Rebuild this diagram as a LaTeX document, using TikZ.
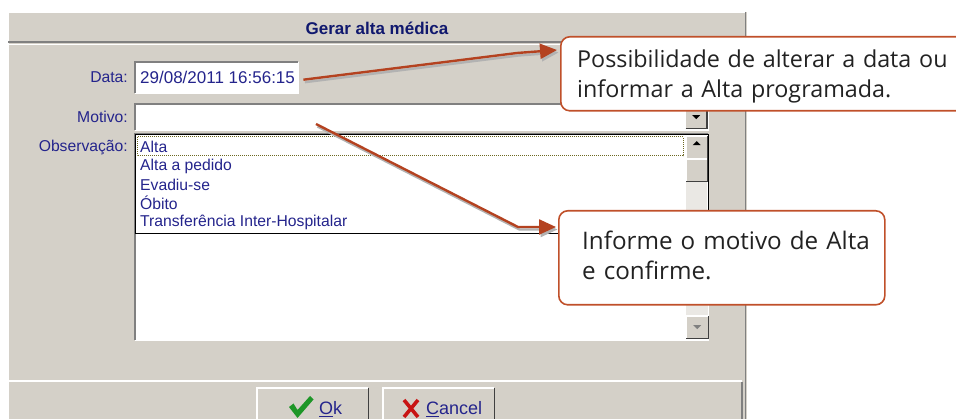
\documentclass[tikz,border=0pt]{standalone}
\usepackage{fontspec}
\setmainfont{Liberation Sans}
\newfontfamily\notefont{Open Sans}
\usetikzlibrary{arrows.meta}

\definecolor{winGray}{RGB}{212,208,200}
\definecolor{winShade}{RGB}{128,128,128}
\definecolor{winDark}{RGB}{64,64,64}
\definecolor{trackGray}{RGB}{234,232,228}
\definecolor{titleBlue}{RGB}{16,24,110}
\definecolor{uiBlue}{RGB}{36,36,140}
\definecolor{noteRed}{RGB}{192,80,42}
\definecolor{arrowRed}{RGB}{180,66,32}
\definecolor{noteText}{RGB}{34,34,34}
\definecolor{okGreen}{RGB}{30,150,40}
\definecolor{cancelRed}{RGB}{200,20,20}

% sunken edge of a white field
\newcommand{\sunkenedge}[1]{%
  \draw[winShade, line width=1.2pt] (#1.south west) |- (#1.north east);
  \draw[white, line width=1.2pt] (#1.south west) -| (#1.north east);}
% raised edge of a button
\newcommand{\raisededge}[1]{%
  \draw[white, line width=1.2pt] (#1.south west) |- (#1.north east);
  \draw[winDark, line width=1.2pt] (#1.south west) -| (#1.north east);}

\tikzset{
  uiText/.style={font=\fontsize{15.7}{18}\selectfont, text=uiBlue, inner sep=0pt},
  field/.style={fill=white, inner sep=0pt, anchor=north west},
  btn/.style={fill=winGray, inner sep=0pt, anchor=north west},
  track/.style={fill=trackGray, inner sep=0pt, anchor=north west},
  notebox/.style={draw=noteRed, line width=1.6pt, rounded corners=9pt, fill=white,
    anchor=north west, inner sep=0pt},
  notetext/.style={align=left, anchor=base west, inner sep=0pt, text=noteText,
    text width=440pt, font=\notefont\fontsize{23.3}{30}\selectfont},
  pointer/.style={draw=arrowRed, line width=2.4pt,
    -{Triangle[length=17pt,width=15pt]}},
  pointershadow/.style={draw=black!30, line width=2.4pt,
    -{Triangle[length=17pt,width=15pt]}, transform canvas={shift={(1.5pt,-2.5pt)}}},
}

\begin{document}
\begin{tikzpicture}[x=1pt, y=-1pt]
\useasboundingbox (0,0) rectangle (956,419);

% window and title bar
\fill[winGray] (7,12) rectangle (747,419);
\draw[white, line width=1.2pt] (8,12.6) -- (746,12.6);
\draw[white, line width=1.2pt] (8,12) -- (8,419);
\draw[winShade, line width=1.5pt] (745.5,12) -- (745.5,419);
\draw[winShade, line width=1.5pt] (8,42) -- (744,42);
\draw[white] (8,44) -- (744,44);
\draw (377,28) node[font=\bfseries\fontsize{17}{19}\selectfont, text=titleBlue] (title) {Gerar alta médica};

% Data
\draw (128,77) node[uiText, anchor=east] (dataLbl) {Data:};
\node[field, minimum width=163, minimum height=31] (dataBox) at (135,62) {};
\sunkenedge{dataBox}
\node[uiText, font=\fontsize{17}{19}\selectfont, anchor=west] (dataVal) at ([xshift=5pt]dataBox.west) {29/08/2011 16:56:15};

% Motivo
\draw (128,117) node[uiText, anchor=east] (motivoLbl) {Motivo:};
\node[field, minimum width=573, minimum height=26] (motivoBox) at (135,104) {};
\sunkenedge{motivoBox}
\node[btn, minimum width=21, minimum height=22, anchor=north east] (motivoBtn) at ([xshift=-1.5pt, yshift=-2pt]motivoBox.north east) {};
\raisededge{motivoBtn}
\fill ([xshift=-4pt, yshift=2pt]motivoBtn.center) -- ++(8,0) -- ++(-4,4) -- cycle;

% Observacao and the open list
\draw (128,147) node[uiText, anchor=east] (obsLbl) {Observação:};
\node[field, minimum width=573, minimum height=206] (obsBox) at (135,134) {};
\sunkenedge{obsBox}
\node[track, minimum width=22, minimum height=83] (obsTrack) at (686,233) {};
\node[btn, minimum width=22, minimum height=22] (obsDown) at (686,316) {};
\raisededge{obsDown}
\fill[winShade] ([xshift=-4pt, yshift=2pt]obsDown.center) -- ++(8,0) -- ++(-4,4) -- cycle;

\node[field, draw=black, line width=1.2pt, minimum width=573, minimum height=99] (listBox) at (135,134) {};
\draw[olive!70!black, densely dotted, line width=1pt] (137,137) rectangle (683,156);
\node[track, minimum width=21, minimum height=96] (listTrack) at (686,135.5) {};
\node[btn, minimum width=21, minimum height=22] (listUp) at (686,136) {};
\raisededge{listUp}
\fill ([xshift=-4pt, yshift=2pt]listUp.center) -- ++(8,0) -- ++(-4,-4) -- cycle;
\node[btn, minimum width=21, minimum height=22] (listThumb) at (686,159) {};
\raisededge{listThumb}

\node[uiText, anchor=west] (item1) at (140,147) {Alta};
\node[uiText, anchor=west] (item2) at (140,166) {Alta a pedido};
\node[uiText, anchor=west] (item3) at (140,184.5) {Evadiu-se};
\node[uiText, anchor=west] (item4) at (140,203) {Óbito};
\node[uiText, anchor=west] (item5) at (140,222) {Transferência Inter-Hospitalar};

% bottom panel with buttons
\draw[white, line width=1.5pt] (8,381) -- (742,381);
\draw[winShade, line width=1.2pt] (742,382) -- (742,419);
\node[btn, minimum width=111, minimum height=36] (okBtn) at (257,388) {};
\raisededge{okBtn}
\fill[okGreen] (289,407) -- (293.5,403.5) -- (297.5,410) -- (310,396) -- (313.5,399.5) -- (297.5,418) -- cycle;
\node[uiText, font=\fontsize{18}{20}\selectfont, anchor=west] (okTxt) at (319,409) {\underline{O}k};
\node[btn, minimum width=111, minimum height=36] (cancelBtn) at (383,388) {};
\raisededge{cancelBtn}
\draw[cancelRed, line width=3.6pt] (404,400) -- (418,417) (418,400) -- (404,417);
\node[uiText, font=\fontsize{18}{20}\selectfont, anchor=west] (cancelTxt) at (426,409) {\underline{C}ancel};

% callouts
\node[notebox, minimum width=420, minimum height=74] (note1) at (560,36) {};
\node[notetext] (note1txt) at (577,68) {Possibilidade de alterar a data ou\\informar a Alta programada.};
\node[notebox, minimum width=326, minimum height=94] (note2) at (558,210) {};
\node[notetext, font=\notefont\fontsize{24.2}{30}\selectfont] (note2txt) at (582,250) {Informe o motivo de Alta\\e confirme.};

\coordinate (dataTail) at ([xshift=5pt, yshift=-2pt]dataBox.east);
\coordinate (dataBend) at (517,53);
\coordinate (motivoTail) at (316,124);
\coordinate (motivoBend) at (518,227);

\draw[pointershadow] (dataTail) -- (dataBend) -- ([xshift=-3pt, yshift=-14pt]note1.north west);
\draw[pointer] (dataTail) -- (dataBend) -- ([xshift=-3pt, yshift=-14pt]note1.north west);
\draw[pointershadow] (motivoTail) -- (motivoBend) -- ([xshift=-2pt, yshift=-17pt]note2.north west);
\draw[pointer] (motivoTail) -- (motivoBend) -- ([xshift=-2pt, yshift=-17pt]note2.north west);
\end{tikzpicture}
\end{document}
